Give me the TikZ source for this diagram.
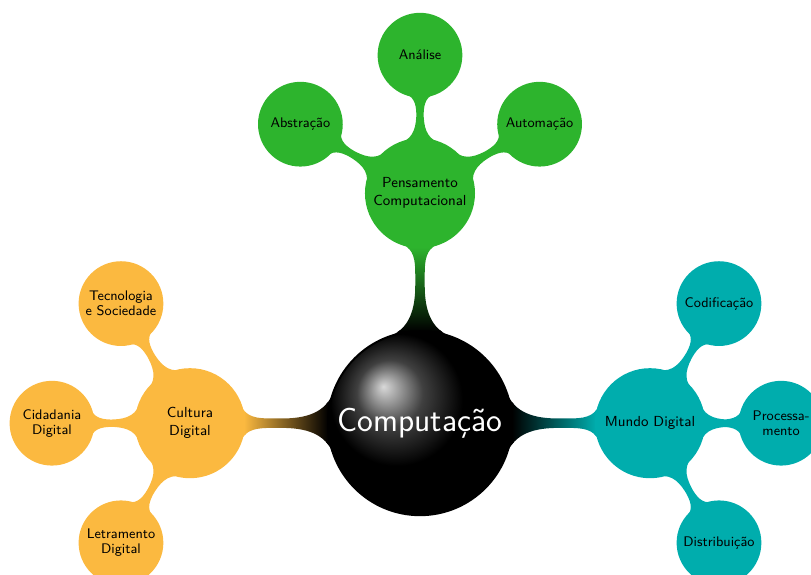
\documentclass[tikz,border=0pt]{standalone}
\usetikzlibrary{mindmap,backgrounds}

\definecolor{pcgreen}{RGB}{45,180,45}
\definecolor{mdteal}{RGB}{0,173,173}
\definecolor{cdorange}{RGB}{251,185,64}

\tikzset{
	rootball/.style={concept, concept color=black, ball color=black, text=white, minimum size=4cm, text width=3.7cm, inner sep=1pt, align=center, font=\sffamily\huge},
	branch/.style={concept, minimum size=2.35cm, text width=2.05cm, inner sep=1pt, align=center, font=\sffamily\small},
	leaf/.style={concept, minimum size=1.8cm, text width=1.6cm, inner sep=1pt, align=center, font=\sffamily\fontsize{8.6}{9.3}\selectfont},
}

\begin{document}
\begin{tikzpicture}[mindmap]
			%%%%% START %%%%%
			\useasboundingbox (-9.13, -3.28) rectangle (8.50, 9.20);
			
			\node[rootball] (comp) at (0, 0) {Computação};
			
			% pensamento computacional
			\node[branch, concept color=pcgreen] (pensamento) at (0, 5) {Pensamento\\Computacional};
			\node[leaf, concept color=pcgreen] (abstracao) at (-2.6, 6.5) {Abstração};
			\node[leaf, concept color=pcgreen] (analise) at (0, 8) {Análise};
			\node[leaf, concept color=pcgreen] (automacao) at (2.6, 6.5) {Automação};
			
			% mundo digital
			\node[branch, concept color=mdteal] (mundo) at (5, 0) {Mundo Digital};
			\node[leaf, concept color=mdteal] (codificacao) at (6.5, 2.6) {Codificação};
			\node[leaf, concept color=mdteal] (processamento) at (7.85, 0) {Processa-\\mento};
			\node[leaf, concept color=mdteal] (distribuicao) at (6.5, -2.6) {Distribuição};
			
			% cultura digital
			\node[branch, concept color=cdorange] (cultura) at (-5, 0) {Cultura\\Digital};
			\node[leaf, concept color=cdorange] (tecnologia) at (-6.5, 2.6) {Tecnologia\\e Sociedade};
			\node[leaf, concept color=cdorange] (cidadania) at (-8, 0) {Cidadania\\Digital};
			\node[leaf, concept color=cdorange] (letramento) at (-6.5, -2.6) {Letramento\\Digital};
			
			\begin{scope}[on background layer]
				\path (comp) to[circle connection bar switch color=from (black) to (pcgreen)] (pensamento);
				\path (comp) to[circle connection bar switch color=from (black) to (mdteal)] (mundo);
				\path (comp) to[circle connection bar switch color=from (black) to (cdorange)] (cultura);
				
				\path[concept color=pcgreen] (pensamento) to[circle connection bar] (abstracao);
				\path[concept color=pcgreen] (pensamento) to[circle connection bar] (analise);
				\path[concept color=pcgreen] (pensamento) to[circle connection bar] (automacao);
				
				\path[concept color=mdteal] (mundo) to[circle connection bar] (codificacao);
				\path[concept color=mdteal] (mundo) to[circle connection bar] (processamento);
				\path[concept color=mdteal] (mundo) to[circle connection bar] (distribuicao);
				
				\path[concept color=cdorange] (cultura) to[circle connection bar] (tecnologia);
				\path[concept color=cdorange] (cultura) to[circle connection bar] (cidadania);
				\path[concept color=cdorange] (cultura) to[circle connection bar] (letramento);
			\end{scope}
			%%%%% END %%%%%
\end{tikzpicture}
\end{document}
